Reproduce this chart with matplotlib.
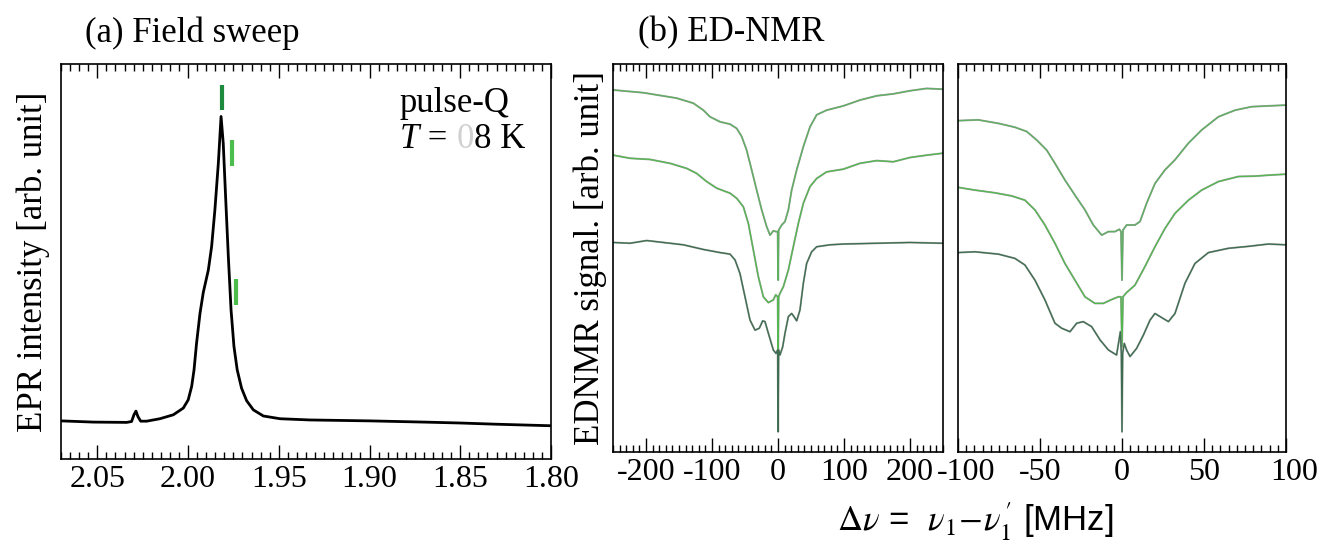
import matplotlib
matplotlib.use("Agg")
import matplotlib.pyplot as plt
import matplotlib.transforms as mtransforms
from matplotlib.ticker import MultipleLocator, FixedLocator

# ---------------- data ----------------
# (a) field sweep: g-value vs EPR intensity (arb. unit)
epr_g = [2.0700, 2.0522, 2.0338, 2.0311, 2.0298, 2.0287, 2.0276, 2.0261, 2.0228,
         2.0155, 2.0081, 2.0026, 1.9999, 1.9980, 1.9967, 1.9953, 1.9934, 1.9916,
         1.9888, 1.9870, 1.9852, 1.9833, 1.9818, 1.9806, 1.9793, 1.9778, 1.9763,
         1.9747, 1.9729, 1.9705, 1.9677, 1.9640, 1.9585, 1.9493, 1.9328, 1.9000,
         1.8700, 1.8500, 1.8300, 1.8000]
epr_int = [0.000, -0.004, -0.005, -0.002, 0.020, 0.032, 0.014, -0.001, -0.001,
           0.007, 0.020, 0.042, 0.069, 0.113, 0.167, 0.255, 0.353, 0.421,
           0.495, 0.572, 0.692, 0.845, 0.998, 0.910, 0.735, 0.539, 0.364,
           0.244, 0.167, 0.107, 0.066, 0.036, 0.016, 0.007, 0.003, 0.000,
           -0.004, -0.007, -0.011, -0.016]

# markers of the ED-NMR observation positions
mark_g = [1.9813, 1.9758, 1.9734]
mark_lo = [1.020, 0.837, 0.380]
mark_hi = [1.102, 0.921, 0.465]
mark_colors = ["#1e8a3e", "#4cbd4c", "#4cbd4c"]

# (b) ED-NMR, wide range (-250..250 MHz)
w_top_x = [-249.5, -204, -153.5, -128.3, -113.1, -103, -87.9, -72.7, -62.6, -55,
           -47.5, -39.9, -32.3, -24.7, -17.2, -12.1, -7.1, -3.0, -0.5, 0.25, 1.0,
           5.6, 10.6, 15.7, 20.7, 28.3, 38.4, 48.5, 58.6, 73.7, 99, 124.2, 149.5,
           174.7, 200, 225.2, 249.5]
w_top_y = [0.933, 0.926, 0.912, 0.899, 0.881, 0.864, 0.851, 0.845, 0.834, 0.813,
           0.778, 0.727, 0.675, 0.624, 0.581, 0.559, 0.570, 0.568, 0.568, 0.443, 0.572,
           0.585, 0.594, 0.624, 0.675, 0.727, 0.787, 0.838, 0.869, 0.881, 0.892, 0.907, 0.918,
           0.923, 0.931, 0.937, 0.935]

w_mid_x = [-249.5, -224.2, -193.9, -163.6, -138.4, -123.2, -108.1, -92.9, -72.7, -62.6,
           -52.5, -44.9, -37.4, -29.8, -22.2, -14.6, -7.1, -3.5, -0.5, 0.25, 1.0,
           3.0, 8.1, 15.7, 23.2, 30.8, 38.4, 48.5, 58.6, 73.7, 99, 124.2, 149.5,
           174.7, 200, 225.2, 249.5]
w_mid_y = [0.765, 0.757, 0.754, 0.744, 0.731, 0.718, 0.697, 0.680, 0.667, 0.654,
           0.632, 0.589, 0.521, 0.452, 0.400, 0.385, 0.392, 0.405, 0.400, 0.254, 0.400,
           0.409, 0.426, 0.469, 0.529, 0.589, 0.641, 0.684, 0.705, 0.722, 0.729, 0.744, 0.751,
           0.748, 0.759, 0.765, 0.770]

w_bot_x = [-249.5, -224.2, -199, -173.7, -143.4, -113.1, -87.9, -72.7, -65.1, -57.6,
           -50, -42.4, -34.8, -28.3, -23.2, -19.7, -14.6, -7.1, -3.0, -0.5, 0.25, 1.0,
           3.0, 7.1, 10.6, 15.7, 20.7, 24.2, 28.3, 33.3, 38.4, 43.4, 51, 58.6, 78.8,
           99, 149.5, 200, 249.5]
w_bot_y = [0.540, 0.538, 0.545, 0.540, 0.534, 0.522, 0.514, 0.510, 0.495, 0.460,
           0.400, 0.340, 0.314, 0.319, 0.338, 0.336, 0.306, 0.263, 0.254, 0.263, 0.052, 0.263,
           0.250, 0.271, 0.306, 0.349, 0.357, 0.349, 0.338, 0.366, 0.435, 0.486, 0.516, 0.529, 0.534,
           0.536, 0.538, 0.540, 0.538]

# (b) ED-NMR, narrow range (-100..100 MHz)
n_top_x = [-99.8, -87.6, -75.4, -65.3, -58.1, -52, -45.9, -40.9, -34.8, -28.7, -22.6,
           -17.5, -12.4, -8.3, -4.3, -1.6, -0.6, 0.0, 0.6, 2.8, 7.9, 11, 15, 20.1,
           26.2, 32.3, 40.5, 48.6, 58.8, 69, 79.1, 89.2, 100]
n_top_y = [0.854, 0.856, 0.847, 0.837, 0.826, 0.804, 0.778, 0.744, 0.701, 0.662, 0.624,
           0.585, 0.559, 0.568, 0.568, 0.574, 0.568, 0.443, 0.572, 0.585, 0.585, 0.594, 0.641, 0.692,
           0.727, 0.753, 0.796, 0.830, 0.864, 0.881, 0.890, 0.892, 0.894]

n_mid_x = [-99.8, -89.7, -77.5, -67.3, -59.2, -53.1, -47, -40.9, -34.8, -28.7, -22.6,
           -16.5, -11.4, -6.3, -2.2, -0.6, 0.0, 0.6, 2.8, 7.9, 14, 20.1, 26.2, 32.3,
           40.5, 48.6, 58.8, 71, 81.1, 91.3, 100]
n_mid_y = [0.682, 0.675, 0.668, 0.660, 0.649, 0.624, 0.585, 0.538, 0.486, 0.443, 0.400,
           0.383, 0.383, 0.393, 0.400, 0.400, 0.271, 0.400, 0.411, 0.430, 0.478, 0.529, 0.576, 0.615,
           0.649, 0.675, 0.697, 0.710, 0.711, 0.714, 0.716]

n_bot_x = [-99.8, -89.7, -75.4, -65.3, -59.2, -53.1, -47, -40.9, -36.8, -31.7, -27.6,
           -23.6, -18.5, -13.4, -8.3, -3.3, -1.0, -0.4, 0.0, 0.4, 1.4, 2.8, 4.9, 8.9,
           13, 17.1, 20.1, 23.2, 28.3, 32.3, 38.4, 44.5, 52.7, 64.9, 77.1, 89.2, 100]
n_bot_y = [0.514, 0.516, 0.510, 0.499, 0.482, 0.443, 0.392, 0.332, 0.319, 0.310, 0.332,
           0.336, 0.323, 0.289, 0.263, 0.250, 0.310, 0.254, 0.052, 0.254, 0.280, 0.263, 0.246, 0.267,
           0.301, 0.340, 0.357, 0.349, 0.336, 0.357, 0.435, 0.486, 0.514, 0.525, 0.530, 0.536, 0.534]

a_ticks = [2.05, 2.00, 1.95, 1.90, 1.85, 1.80]
a_ticklabels = ["2.05", "2.00", "1.95", "1.90", "1.85", "1.80"]
w_ticks = [-200, -100, 0, 100, 200]
n_ticks = [-100, -50, 0, 50, 100]

curve_colors = ["#5cb05f", "#52b84e", "#3c6d50"]

# ---------------- style ----------------
plt.rcParams["font.family"] = ["Liberation Serif", "DejaVu Serif"]
plt.rcParams["mathtext.fontset"] = "stix"
plt.rcParams["axes.unicode_minus"] = False
FS = 23

W, H = 1323, 543
fig = plt.figure(figsize=(W / 100, H / 100), dpi=100)


def px_axes(x0, y0, x1, y1):
    return fig.add_axes([x0 / W, 1 - y1 / H, (x1 - x0) / W, (y1 - y0) / H])


ax_a = px_axes(61, 64, 551, 459)
ax_w = px_axes(613, 64, 943, 452)
ax_n = px_axes(958, 64, 1286, 452)

for ax in (ax_a, ax_w, ax_n):
    for s in ax.spines.values():
        s.set_linewidth(1.2)
    ax.tick_params(axis="x", which="both", direction="in", top=True, bottom=True,
                   labelsize=FS, pad=4, width=1.0)
    ax.tick_params(axis="x", which="major", length=10)
    ax.tick_params(axis="x", which="minor", length=5)
    ax.set_yticks([])

# panel (a)
ax_a.plot(epr_g, epr_int, color="black", lw=2.0)
ax_a.vlines(mark_g, mark_lo, mark_hi, colors=mark_colors, lw=3.0)
ax_a.set_xlim(2.07, 1.80)
ax_a.set_ylim(-0.125, 1.17)
ax_a.xaxis.set_major_locator(FixedLocator(a_ticks))
ax_a.set_xticklabels(a_ticklabels)
ax_a.xaxis.set_minor_locator(MultipleLocator(0.005))
ax_a.set_ylabel("EPR intensity [arb. unit]", fontsize=25, labelpad=8)

# panel (b) wide
for (xs, ys), c in zip([(w_top_x, w_top_y), (w_mid_x, w_mid_y), (w_bot_x, w_bot_y)], curve_colors):
    ax_w.plot(xs, ys, color="#8c8c8c", lw=1.4, alpha=0.8)
    ax_w.plot(xs, ys, color=c, lw=0.9)
ax_w.set_xlim(-250, 250)
ax_w.set_ylim(0, 1)
ax_w.xaxis.set_major_locator(FixedLocator(w_ticks))
ax_w.xaxis.set_minor_locator(MultipleLocator(10))
ax_w.set_ylabel("EDNMR signal. [arb. unit]", fontsize=25, labelpad=4)

# panel (b) narrow
for (xs, ys), c in zip([(n_top_x, n_top_y), (n_mid_x, n_mid_y), (n_bot_x, n_bot_y)], curve_colors):
    ax_n.plot(xs, ys, color="#8c8c8c", lw=1.4, alpha=0.8)
    ax_n.plot(xs, ys, color=c, lw=0.9)
ax_n.set_xlim(-100, 100)
ax_n.set_ylim(0, 1)
ax_n.xaxis.set_major_locator(FixedLocator(n_ticks))
ax_n.xaxis.set_minor_locator(MultipleLocator(5))

# nudge the crowded edge labels of the narrow panel to the right
fig.canvas.draw()
n_labels = ax_n.get_xticklabels()
shift = mtransforms.ScaledTranslation(8 / 100, 0, fig.dpi_scale_trans)
for lab in (n_labels[0], n_labels[-1]):
    lab.set_transform(lab.get_transform() + shift)

# titles
fig.text(85 / W, 1 - 33 / H, "(a) Field sweep", fontsize=25, ha="left", va="center")
fig.text(638 / W, 1 - 33 / H, "(b) ED-NMR", fontsize=25, ha="left", va="center")

# annotations in (a)
fig.text(400 / W, 1 - 104 / H, "pulse-Q", fontsize=25, ha="left", va="center")
t1 = fig.text(400 / W, 1 - 140 / H, "T", fontsize=25, style="italic", ha="left", va="center")
a2 = ax_a.annotate(" = ", xy=(1, 0), xycoords=t1, fontsize=25, ha="left", va="bottom")
a3 = ax_a.annotate("0", xy=(1, 0), xycoords=a2, fontsize=25, ha="left", va="bottom",
                   color="#d0d0d0")
a4 = ax_a.annotate("8 K", xy=(1, 0), xycoords=a3, fontsize=25, ha="left", va="bottom")

# x label for (b)
fig.text(975 / W, 1 - 522 / H, r"$\Delta\nu$ =  $\nu_1\!-\!\nu_1^{\,\prime}$ [MHz]",
         fontsize=25, family=["Liberation Sans", "DejaVu Sans"], ha="center", va="center")

fig.savefig("out.png", dpi=100)
